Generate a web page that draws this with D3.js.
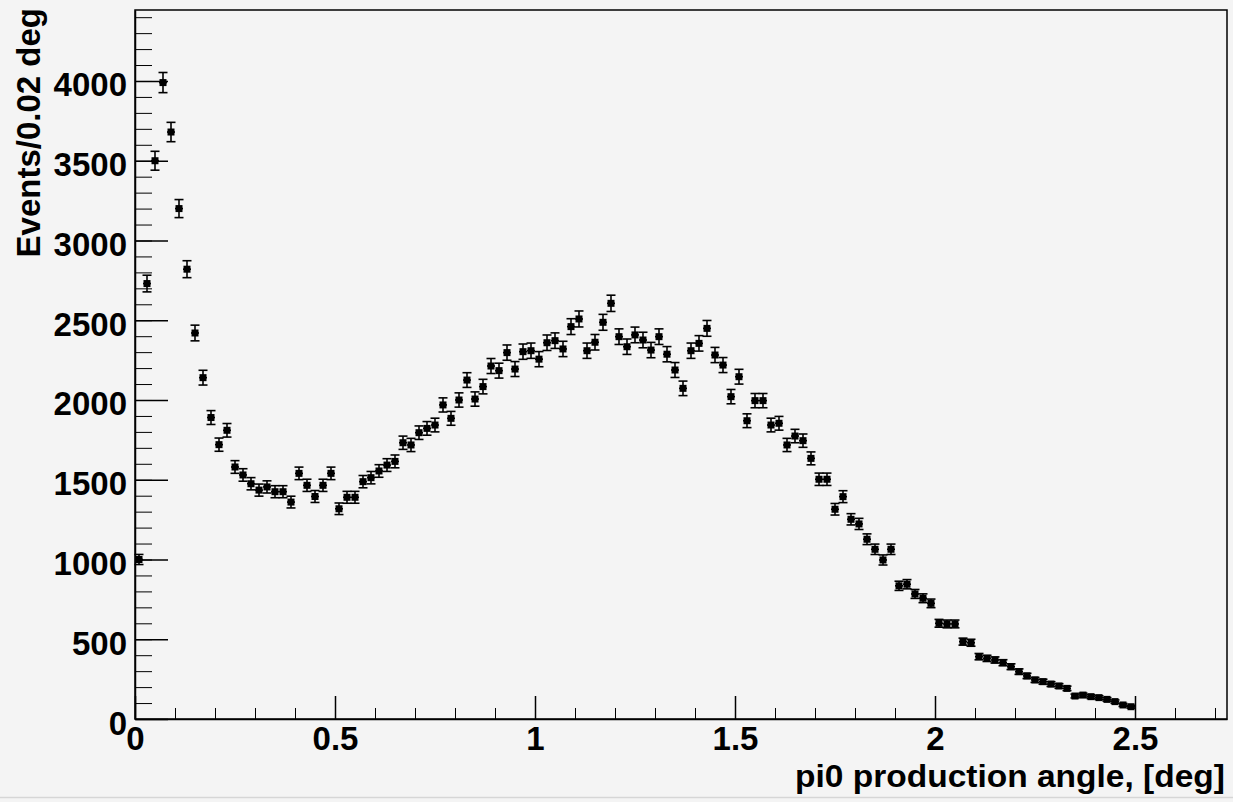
<!DOCTYPE html>
<html>
<head>
<meta charset="utf-8">
<script src="https://cdn.jsdelivr.net/npm/d3@7"></script>
<style>
  html, body { margin: 0; padding: 0; background: #f4f4f4; }
  svg { display: block; }
  .axis text { font-family: "Liberation Sans", Arial, sans-serif; font-weight: bold; font-size: 33px; fill: #000; }
  .title { font-family: "Liberation Sans", Arial, sans-serif; font-weight: bold; font-size: 33px; fill: #000; }
</style>
</head>
<body>
<svg id="chart" width="1233" height="802"></svg>
<script>
// bin centres (width 0.02 deg) and counts
const binWidth = 0.02;
const binCenters = d3.range(125).map(i => +(0.01 + i * binWidth).toFixed(2));
const counts = [
  1000, 2730, 3500, 3990, 3680, 3200, 2820, 2420, 2140, 1890,
  1720, 1810, 1580, 1530, 1475, 1435, 1455, 1425, 1425, 1360,
  1540, 1465, 1395, 1465, 1540, 1318, 1390, 1390, 1488, 1513,
  1555, 1592, 1615, 1732, 1718, 1795, 1822, 1843, 1969, 1885,
  2000, 2125, 2006, 2084, 2213, 2184, 2297, 2194, 2303, 2309,
  2256, 2359, 2372, 2320, 2460, 2508, 2309, 2362, 2487, 2606,
  2397, 2334, 2408, 2376, 2313, 2397, 2287, 2188, 2073, 2309,
  2355, 2449, 2282, 2219, 2021, 2146, 1870, 1996, 1996, 1843,
  1854, 1718, 1774, 1745, 1634, 1503, 1503, 1315, 1394, 1252,
  1223, 1127, 1064, 997, 1064, 835, 845, 784, 757, 725,
  600, 596, 596, 485, 478, 391, 380, 370, 353, 328,
  297, 270, 245, 234, 219, 207, 192, 144, 150, 140,
  134, 123, 109, 88, 77
];
const xMajorTicks = [0, 0.5, 1, 1.5, 2, 2.5];
const yMajorTicks = [0, 500, 1000, 1500, 2000, 2500, 3000, 3500, 4000];
const xLabel = "pi0 production angle, [deg]";
const yLabel = "Events/0.02 deg";

const svg = d3.select("#chart");
const margin = { left: 135, right: 1227, top: 10, bottom: 719 };

const xScale = d3.scaleLinear().domain([0, 2.73]).range([margin.left, margin.right]);
const yScale = d3.scaleLinear().domain([0, 4445]).range([margin.bottom, margin.top]);

// canvas bottom edge
svg.append("line")
  .attr("x1", 0).attr("x2", 1233).attr("y1", 797.5).attr("y2", 797.5)
  .attr("stroke", "#d6d6d6").attr("stroke-width", 1.5);

// frame
svg.append("rect")
  .attr("x", margin.left).attr("y", margin.top)
  .attr("width", margin.right - margin.left).attr("height", margin.bottom - margin.top)
  .attr("fill", "none").attr("stroke", "#000").attr("stroke-width", 1.5);

// minor ticks
svg.append("g")
  .attr("class", "axis")
  .attr("transform", `translate(0,${margin.bottom})`)
  .call(d3.axisBottom(xScale).tickValues(d3.range(0, 28).map(i => i / 10)).tickSize(-11).tickSizeOuter(0).tickFormat(""))
  .call(g => g.select(".domain").remove());
svg.append("g")
  .attr("class", "axis")
  .attr("transform", `translate(${margin.left},0)`)
  .call(d3.axisLeft(yScale).tickValues(d3.range(0, 4450, 100)).tickSize(-17).tickSizeOuter(0).tickFormat(""))
  .call(g => g.select(".domain").remove());

// major ticks + labels
const xAxis = svg.append("g")
  .attr("class", "axis")
  .attr("transform", `translate(0,${margin.bottom})`)
  .call(d3.axisBottom(xScale).tickValues(xMajorTicks).tickSize(-23).tickSizeOuter(0).tickFormat(d3.format("")));
xAxis.select(".domain").attr("stroke-width", 1.5);
xAxis.selectAll(".tick line").attr("stroke-width", 1.5);
xAxis.selectAll(".tick text").attr("y", 31).attr("dy", 0);

const yAxis = svg.append("g")
  .attr("class", "axis")
  .attr("transform", `translate(${margin.left},0)`)
  .call(d3.axisLeft(yScale).tickValues(yMajorTicks).tickSize(-33).tickSizeOuter(0).tickFormat(d3.format("")));
yAxis.select(".domain").attr("stroke-width", 1.5);
yAxis.selectAll(".tick line").attr("stroke-width", 1.5);
yAxis.selectAll(".tick text").attr("x", -8).attr("dy", 15);
svg.selectAll(".axis .tick line").attr("stroke", "#000");

// titles
svg.append("text")
  .attr("class", "title")
  .attr("x", 1225).attr("y", 787)
  .attr("text-anchor", "end")
  .style("font-size", "32px")
  .attr("textLength", 430)
  .attr("lengthAdjust", "spacingAndGlyphs")
  .text(xLabel);
svg.append("text")
  .attr("class", "title")
  .attr("transform", "translate(40,8) rotate(-90)")
  .attr("text-anchor", "end")
  .text(yLabel);

// points with Poisson error bars (E1 style)
const points = binCenters.map((c, i) => ({ x: c, y: counts[i], err: Math.sqrt(counts[i]) }));
const marks = svg.append("g").attr("stroke", "#000").attr("stroke-width", 1.6);

const pt = marks.selectAll("g.pt").data(points).enter().append("g").attr("class", "pt");
pt.append("line")
  .attr("x1", d => xScale(d.x - binWidth / 2)).attr("x2", d => xScale(d.x + binWidth / 2))
  .attr("y1", d => yScale(d.y)).attr("y2", d => yScale(d.y));
pt.append("line")
  .attr("x1", d => xScale(d.x)).attr("x2", d => xScale(d.x))
  .attr("y1", d => yScale(d.y - d.err)).attr("y2", d => yScale(d.y + d.err));
pt.append("line")
  .attr("x1", d => xScale(d.x) - 4.5).attr("x2", d => xScale(d.x) + 4.5)
  .attr("y1", d => yScale(d.y + d.err)).attr("y2", d => yScale(d.y + d.err));
pt.append("line")
  .attr("x1", d => xScale(d.x) - 4.5).attr("x2", d => xScale(d.x) + 4.5)
  .attr("y1", d => yScale(d.y - d.err)).attr("y2", d => yScale(d.y - d.err));
pt.append("rect")
  .attr("x", d => xScale(d.x) - 3.5).attr("y", d => yScale(d.y) - 3.5)
  .attr("width", 7).attr("height", 7)
  .attr("fill", "#000").attr("stroke", "none");
</script>
</body>
</html>
